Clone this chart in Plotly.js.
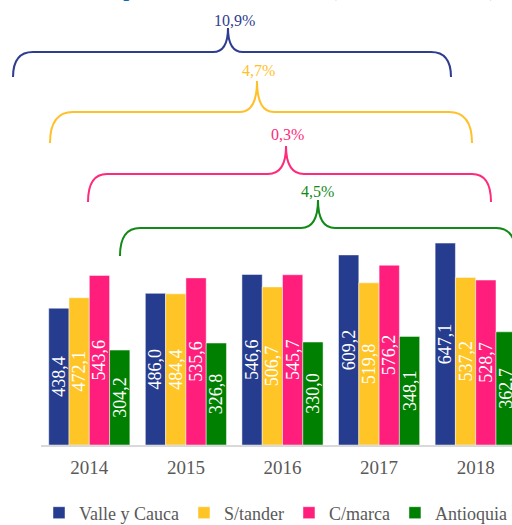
<!DOCTYPE html>
<html>
<head>
<meta charset="utf-8">
<script src="https://cdn.plot.ly/plotly-3.0.1.min.js"></script>
<style>
  html, body { margin: 0; padding: 0; background: #fff; }
  #myDiv { width: 512px; height: 525px; }
</style>
</head>
<body>
<div id="myDiv"></div>
<script>
// data
var years = ['2014', '2015', '2016', '2017', '2018'];
var valle = [438.4, 486.0, 546.6, 609.2, 647.1];
var stander = [472.1, 484.4, 506.7, 519.8, 537.2];
var cmarca = [543.6, 535.6, 545.7, 576.2, 528.7];
var antioquia = [304.2, 326.8, 330.0, 348.1, 362.7];
var seriesNames = ['Valle y Cauca', 'S/tander', 'C/marca', 'Antioquia'];
var braceLabels = ['10,9%', '4,7%', '0,3%', '4,5%'];

var colors = ['#253C8F', '#FFC526', '#FF1E7C', '#008000'];
var braceColors = ['#2E3D8F', '#FFC12A', '#FF2A7A', '#138A17'];
var font = 'Liberation Serif, Times New Roman, serif';

function fmt(v) {
  return v.toFixed(1).replace('.', ',');
}

function barTrace(name, vals, color) {
  return {
    x: years,
    y: vals,
    name: name,
    type: 'bar',
    text: vals.map(fmt),
    textposition: 'inside',
    insidetextanchor: 'middle',
    textangle: -90,
    constraintext: 'none',
    textfont: { family: font, size: 18, color: 'white' },
    marker: { color: color, line: { color: 'rgba(255,255,255,0.6)', width: 0.8 } },
    hoverinfo: 'skip'
  };
}

var data = [
  barTrace(seriesNames[0], valle, colors[0]),
  barTrace(seriesNames[1], stander, colors[1]),
  barTrace(seriesNames[2], cmarca, colors[2]),
  barTrace(seriesNames[3], antioquia, colors[3])
];

// plot area in pixels: left 41, right 512, top 0, bottom 445
var L = 41, W = 471, B = 445, H = 445;
function px(x) { return (x - L) / W; }
function py(y) { return (B - y) / H; }

// brace geometry in pixels: left end, right end, tip x, end y, line y, tip y, corner width, tip width
var braces = [
  [13, 451, 228, 77, 52, 28, 20, 15],
  [50, 472, 257, 143, 112, 81, 23, 17],
  [88, 491, 286, 202, 174, 146, 19, 18],
  [120, 516, 318, 256, 228, 200, 20, 17]
];
var labelPos = [[234, 20], [258, 70], [287, 134], [317, 191]];

function bracePath(b) {
  var xL = b[0], xR = b[1], xM = b[2], yB = b[3], yH = b[4], yT = b[5], rx = b[6], tx = b[7];
  function p(x, y) { return px(x).toFixed(4) + ',' + py(y).toFixed(4); }
  return 'M' + p(xL, yB) +
    ' Q' + p(xL, yH) + ' ' + p(xL + rx, yH) +
    ' L' + p(xM - tx, yH) +
    ' Q' + p(xM, yH) + ' ' + p(xM, yT) +
    ' Q' + p(xM, yH) + ' ' + p(xM + tx, yH) +
    ' L' + p(xR - rx, yH) +
    ' Q' + p(xR, yH) + ' ' + p(xR, yB);
}

var shapes = braces.map(function (b, i) {
  return {
    type: 'path',
    xref: 'paper', yref: 'paper',
    path: bracePath(b),
    line: { color: braceColors[i], width: 2 }
  };
});

var annotations = braceLabels.map(function (t, i) {
  return {
    xref: 'paper', yref: 'paper',
    x: px(labelPos[i][0]), y: py(labelPos[i][1]),
    xanchor: 'center', yanchor: 'middle',
    text: t, showarrow: false,
    font: { family: font, size: 16, color: braceColors[i] }
  };
});

// title sits above the top edge, only its descenders show
annotations.push({
  xref: 'paper', yref: 'paper',
  x: px(78), y: py(3.5),
  xanchor: 'left', yanchor: 'bottom',
  text: '<b>Comportamiento del sector (miles de millones)</b>',
  showarrow: false,
  font: { family: font, size: 21, color: '#0070C0' }
});

var layout = {
  width: 512,
  height: 525,
  margin: { l: L, r: 0, t: 0, b: 80 },
  paper_bgcolor: 'white',
  plot_bgcolor: 'white',
  barmode: 'group',
  bargap: 0.16,
  bargroupgap: 0,
  showlegend: true,
  xaxis: {
    type: 'category',
    range: [-0.5, -0.5 + W / 96.6],
    showline: true,
    linecolor: '#D9D9D9',
    linewidth: 2,
    ticks: '',
    ticklabelstandoff: 4,
    tickfont: { family: font, size: 19, color: '#595959' },
    fixedrange: true
  },
  yaxis: {
    range: [0, H / 0.312],
    visible: false,
    showgrid: false,
    zeroline: false,
    fixedrange: true
  },
  legend: {
    orientation: 'h',
    xref: 'paper', yref: 'container',
    x: px(55), y: (525 - 513) / 525,
    xanchor: 'left', yanchor: 'middle',
    font: { family: font, size: 18, color: '#595959' },
    itemwidth: 30,
    traceorder: 'normal'
  },
  shapes: shapes,
  annotations: annotations
};

Plotly.newPlot('myDiv', data, layout, { displayModeBar: false, staticPlot: true });
</script>
</body>
</html>
